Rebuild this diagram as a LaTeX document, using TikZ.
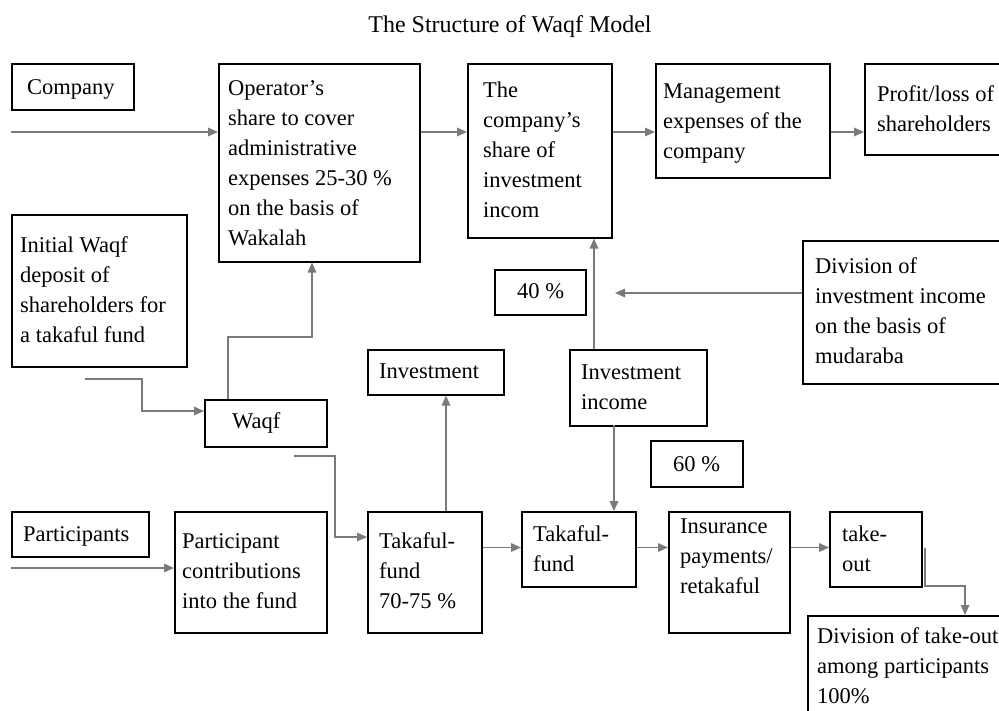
\documentclass[tikz,border=0pt]{standalone}
\usepackage{fontspec}
\setmainfont{Liberation Serif}
\usetikzlibrary{arrows.meta,calc}
\definecolor{linegray}{RGB}{122,122,122}
\begin{document}
\begin{tikzpicture}[x=1pt,y=-1pt,
  box/.style={draw=black,line width=1.5pt,inner sep=0pt,anchor=north west,
    font=\fontsize{22.5}{30}\selectfont},
  txt/.style={inner sep=0pt,anchor=north west,align=left,
    font=\fontsize{22.5}{30}\selectfont},
  arr/.style={draw=linegray,line width=1.6pt,-{Triangle[length=10pt,width=8.5pt]}},
  ln/.style={draw=linegray,line width=1.6pt}]
\useasboundingbox (0,0) rectangle (999,710);
\fill[white] (0,0) rectangle (999,710);
\clip (0,0) rectangle (999,710);

% title
\node[inner sep=0pt,anchor=base,font=\fontsize{24}{30}\selectfont] (title) at (510,32) {The Structure of Waqf Model};

% boxes
\node[box,minimum width=122pt,minimum height=46pt] (company) at (11,63) {};
\node[box,minimum width=201pt,minimum height=198pt] (op) at (218,63) {};
\node[box,minimum width=144pt,minimum height=174pt] (share) at (467,63) {};
\node[box,minimum width=174pt,minimum height=114pt] (mgmt) at (655,63) {};
\node[box,minimum width=160pt,minimum height=91pt] (profit) at (864,63) {};
\node[box,minimum width=175pt,minimum height=152pt] (initw) at (11,214) {};
\node[box,minimum width=230pt,minimum height=143pt] (divinv) at (802,240) {};
\node[box,minimum width=91pt,minimum height=45pt] (pct40) at (494,269) {};
\node[box,minimum width=136pt,minimum height=45pt] (invest) at (367,349) {};
\node[box,minimum width=137pt,minimum height=76pt] (invinc) at (569,349) {};
\node[box,minimum width=122pt,minimum height=47pt] (waqf) at (204,399) {};
\node[box,minimum width=92pt,minimum height=46pt] (pct60) at (650,440) {};
\node[box,minimum width=137pt,minimum height=45pt] (partic) at (11,511) {};
\node[box,minimum width=152pt,minimum height=121pt] (pc) at (174,511) {};
\node[box,minimum width=114pt,minimum height=121pt] (tk1) at (367,511) {};
\node[box,minimum width=114pt,minimum height=75pt] (tk2) at (521,511) {};
\node[box,minimum width=121pt,minimum height=121pt] (ins) at (668,511) {};
\node[box,minimum width=92pt,minimum height=75pt] (take) at (829,511) {};
\node[box,minimum width=230pt,minimum height=130pt] (divt) at (807,615) {};

% texts (y = first baseline - 21)
\node[txt] (companyT) at (27,73) {\strut Company};
\node[txt] (opT) at (228,74) {\strut Operator’s\\share to cover\\administrative\\expenses 25-30 \%\\on the basis of\\Wakalah};
\node[txt] (shareT) at (483,76) {\strut The\\company’s\\share of\\investment\\incom};
\node[txt] (mgmtT) at (663,77) {\strut Management\\expenses of the\\company};
\node[txt] (profitT) at (877,80) {\strut Profit/loss of\\shareholders};
\node[txt] (initwT) at (20,231) {\strut Initial Waqf\\deposit of\\shareholders for\\a takaful fund};
\node[txt] (divinvT) at (815,252) {\strut Division of\\investment income\\on the basis of\\mudaraba};
\node[txt] (pct40T) at (517,277) {\strut 40 \%};
\node[txt] (investT) at (379,357) {\strut Investment};
\node[txt] (invincT) at (581,358) {\strut Investment\\income};
\node[txt] (waqfT) at (232,407) {\strut Waqf};
\node[txt] (pct60T) at (673,450) {\strut 60 \%};
\node[txt] (particT) at (23,520) {\strut Participants};
\node[txt] (pcT) at (182,527) {\strut Participant\\contributions\\into the fund};
\node[txt] (tk1T) at (379,527) {\strut Takaful-\\fund\\70-75 \%};
\node[txt] (tk2T) at (533,520) {\strut Takaful-\\fund};
\node[txt] (insT) at (680,512) {\strut Insurance\\payments/\\retakaful};
\node[txt] (takeT) at (842,520) {\strut take-\\out};
\node[txt] (divtT) at (817,622) {\strut Division of take-out\\among participants\\100\%};

% connectors
\coordinate (cin) at (11,132);
\draw[arr] (cin) -- (cin -| op.west);
\draw[arr] (op.east |- cin) -- (share.west |- cin);
\draw[arr] (share.east |- cin) -- (mgmt.west |- cin);
\draw[arr] (mgmt.east |- cin) -- (profit.west |- cin);

\coordinate (win) at (85,379);
\coordinate (wb) at (142,411);
\draw[arr] (win) -| (wb) -- (wb -| waqf.west);

\coordinate (wo) at ($(waqf.north west)+(24,0)$);
\coordinate (wo2) at (312,337);
\draw[arr] (wo) |- (wo2) -- (wo2 |- op.south);

\coordinate (tin) at (294,456);
\coordinate (tb) at (335,537);
\draw[arr] (tin) -| (tb) -- (tb -| tk1.west);

\coordinate (ti) at (446,511);
\draw[arr] (ti) -- (ti |- invest.south);

\coordinate (pin) at (11,568);
\draw[arr] (pin) -- (pin -| pc.west);

\coordinate (ty) at (0,547.5);
\draw[arr] (tk1.east |- ty) -- (tk2.west |- ty);
\draw[arr] (tk2.east |- ty) -- (ins.west |- ty);
\draw[arr] (ins.east |- ty) -- (take.west |- ty);

\coordinate (tko) at (925,547.5);
\coordinate (tk3) at (965,586);
\draw[arr] (tko) |- (tk3) -- (tk3 |- divt.north);

\coordinate (up) at (594,349);
\draw[arr] (up) -- (up |- share.south);
\coordinate (dn) at (614,425);
\draw[arr] (dn) -- (dn |- tk2.north);

\coordinate (dv) at (615,293);
\draw[arr] (divinv.west |- dv) -- (dv);
\end{tikzpicture}
\end{document}
